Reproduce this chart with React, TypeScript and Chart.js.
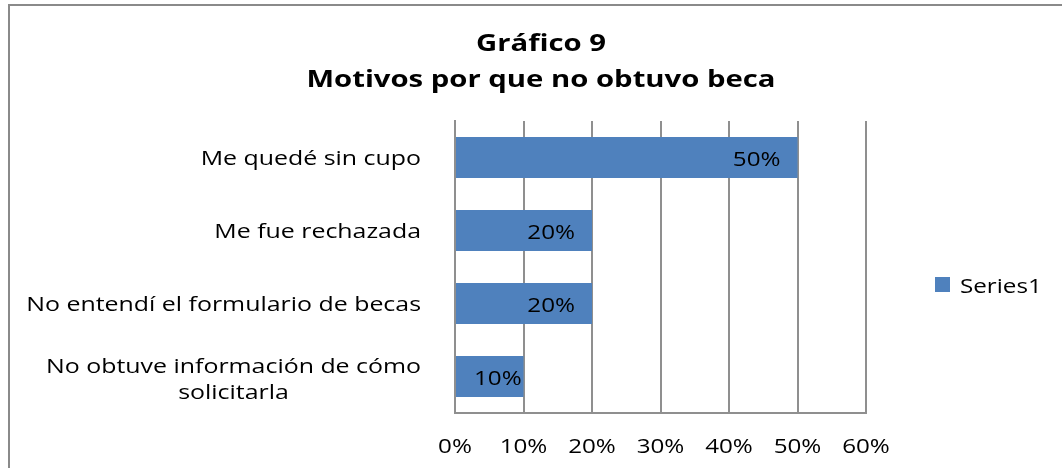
import React, { useEffect, useRef } from "react";
import { Chart, registerables } from "chart.js";

Chart.register(...registerables);

const titleLines = ["Gráfico 9", "Motivos por que no obtuvo beca"];
const categories: (string | string[])[] = [
  "Me quedé sin cupo",
  "Me fue rechazada",
  "No entendí el formulario de becas",
  ["No obtuve información de cómo", "solicitarla"],
];
const seriesName = "Series1";
const seriesValues = [50, 20, 20, 10];
const xMin = 0;
const xMax = 60;
const xStep = 10;

const BAR_COLOR = "#4F81BD";
const GRID_COLOR = "#8f8f8f";
const FONT = "'Open Sans', sans-serif";
const SX = 1.21; // horizontal stretch of the text, as in the reference
const SX_LABEL = 1.245;

function stretchText(
  ctx: CanvasRenderingContext2D,
  text: string,
  x: number,
  y: number,
  align: CanvasTextAlign,
  sx: number
) {
  ctx.save();
  ctx.translate(x, y);
  ctx.scale(sx, 1);
  ctx.textAlign = align;
  ctx.fillText(text, 0, 0);
  ctx.restore();
}

const overlay = {
  id: "overlay",
  afterDraw(chart: any) {
    const ctx = chart.ctx as CanvasRenderingContext2D;
    const area = chart.chartArea;
    const yScale = chart.scales.y;
    const xScale = chart.scales.x;
    ctx.save();
    ctx.fillStyle = "#000";
    ctx.textBaseline = "alphabetic";

    // title
    ctx.font = `bold 24px ${FONT}`;
    titleLines.forEach((t, i) => stretchText(ctx, t, 541, 50.5 + i * 36, "center", 1.22));

    // category labels (right edge of the text block fixed, lines centered inside it)
    ctx.font = `20px ${FONT}`;
    categories.forEach((c, i) => {
      const y = yScale.getPixelForValue(i);
      const lines = Array.isArray(c) ? c : [c];
      const right = area.left - 34;
      if (lines.length === 1) {
        stretchText(ctx, lines[0], right, y + 7, "right", SX_LABEL);
      } else {
        const w = Math.max(...lines.map((l) => ctx.measureText(l).width)) * SX_LABEL;
        const cx = right - w / 2;
        lines.forEach((l, k) =>
          stretchText(ctx, l, cx, y + 9.5 + (k - (lines.length - 1) / 2) * 26, "center", SX_LABEL)
        );
      }
    });

    // x tick labels
    xScale.ticks.forEach((t: any) => {
      const x = xScale.getPixelForValue(t.value);
      stretchText(ctx, `${t.value}%`, x, area.bottom + 40, "center", SX);
    });

    // data labels (inside end)
    const meta = chart.getDatasetMeta(0);
    meta.data.forEach((el: any, i: number) => {
      const txt = `${chart.data.datasets[0].data[i]}%`;
      const w = ctx.measureText(txt).width * SX;
      const right = Math.max(el.x - 17, el.base + 18 + w);
      stretchText(ctx, txt, right, el.y + 8, "right", SX);
    });

    // legend
    const lx = area.right + 69;
    const ly = area.top + 163.5;
    ctx.fillStyle = chart.data.datasets[0].backgroundColor;
    ctx.fillRect(lx, ly - 7.5, 15, 15);
    ctx.fillStyle = "#000";
    stretchText(ctx, chart.data.datasets[0].label, lx + 25, ly + 8, "left", SX);
    ctx.restore();
  },
};

export default function App() {
  const ref = useRef<HTMLCanvasElement>(null);
  useEffect(() => {
    if (!ref.current) return;
    const chart = new Chart(ref.current, {
      type: "bar",
      data: {
        labels: categories as any,
        datasets: [
          {
            label: seriesName,
            data: seriesValues,
            backgroundColor: BAR_COLOR,
            borderWidth: 0,
            barPercentage: 0.56,
            categoryPercentage: 1,
          },
        ],
      },
      options: {
        indexAxis: "y",
        responsive: false,
        animation: false,
        devicePixelRatio: 1,
        layout: { padding: { top: 121, right: 196, bottom: 0, left: 0 } },
        plugins: {
          legend: { display: false },
          title: { display: false },
          tooltip: { enabled: false },
        },
        scales: {
          x: {
            min: xMin,
            max: xMax,
            ticks: { stepSize: xStep, display: false },
            grid: { color: GRID_COLOR, lineWidth: 2, drawTicks: false },
            border: { display: true, color: GRID_COLOR, width: 2 },
            afterFit: (s: any) => {
              s.height = 55;
            },
          },
          y: {
            ticks: { display: false },
            grid: { display: false, drawTicks: false },
            border: { display: true, color: GRID_COLOR, width: 2 },
            afterFit: (s: any) => {
              s.width = 455;
            },
          },
        },
      },
      plugins: [overlay],
    });
    return () => chart.destroy();
  }, []);

  return (
    <div style={{ position: "fixed", left: 0, top: 0, width: 1062, height: 468, overflow: "hidden", background: "#fff" }}>
      <div
        style={{
          position: "absolute",
          left: 8,
          top: 4,
          width: 1120,
          height: 520,
          border: "2px solid #8a8a8a",
          boxSizing: "border-box",
        }}
      />
      <canvas
        ref={ref}
        width={1062}
        height={468}
        style={{ position: "absolute", left: 0, top: 0, width: 1062, height: 468 }}
      />
    </div>
  );
}
